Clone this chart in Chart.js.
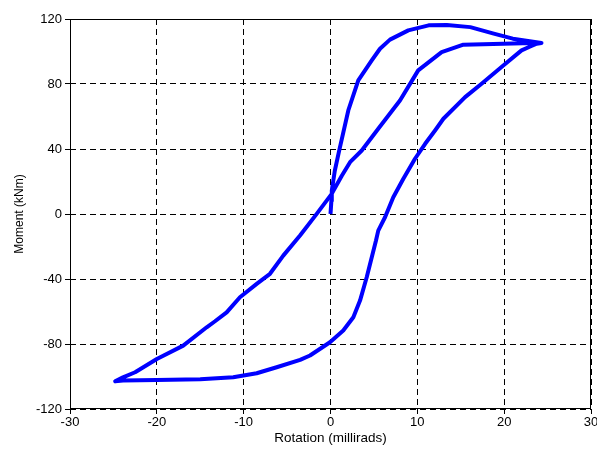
<!DOCTYPE html>
<html>
<head>
<meta charset="utf-8">
<script src="https://cdn.jsdelivr.net/npm/chart.js@4"></script>
<style>
  html, body { margin: 0; padding: 0; background: #fff; }
  #wrap { width: 597px; height: 452px; }
</style>
</head>
<body>
<div id="wrap"><canvas id="graph" width="597" height="452"></canvas></div>
<script>
// rotation (millirads) / moment (kNm), one loop in drawing order
const loadRot = [0, 0.1, 0.15, 0.5, 1.0, 2.05, 3.2, 4.75, 5.7, 6.85, 8.96, 11.3, 13.4, 16.1, 18.8, 21.0, 24.3];
const loadMom = [0, 8, 14.5, 26.8, 39, 63.7, 82.2, 94.5, 101.7, 107.3, 113, 116.1, 116.3, 115, 111, 107.9, 105.2];

const unloadRot = [23.3, 15.3, 12.8, 10.1, 8.0, 5.5, 3.6, 2.25, 1.3, 0.14, -1.59, -3.51, -5.44, -6.97, -8.5, -10.43, -11.96, -13.3, -14.26, -16.96, -20.0, -22.5, -23.9, -24.8];
const unloadMom = [105.2, 104.2, 99.6, 88.4, 69.9, 52.5, 39.1, 31.9, 23.5, 12.4, 0.1, -13.2, -25.6, -36.8, -43, -51.2, -60.5, -66, -69.7, -81, -89.2, -97.4, -100.5, -103];

const reloadRot = [-23.9, -20, -15, -11.2, -8.5, -6.2, -3.5, -2.36, -0.06, 1.47, 2.63, 3.4, 4.17, 5.24, 5.5, 6.28, 7.23, 8.39, 9.73, 10.9, 12.04, 13.0, 15.5, 17.4, 19.9, 22.0, 23.0, 23.75, 24.3];
const reloadMom = [-102.5, -102.1, -101.7, -100.5, -98, -94.3, -89.8, -87.1, -78.9, -71.7, -63.5, -53.3, -38.9, -16.3, -10.2, -2, 10.3, 21.7, 34, 43.2, 51.4, 58.6, 71.9, 80.2, 91.4, 100.7, 103.1, 104.8, 105.2];

const xTicks = [-30, -20, -10, 0, 10, 20, 30];
const yTicks = [-120, -80, -40, 0, 40, 80, 120];

const rotation = loadRot.concat(unloadRot, reloadRot);
const moment = loadMom.concat(unloadMom, reloadMom);
const points = rotation.map((r, i) => ({ x: r, y: moment[i] }));

// solid box round the plot, like the matlab axes
const frame = {
    id: 'frame',
    afterDraw(chart) {
        const a = chart.chartArea;
        const c = chart.ctx;
        c.save();
        c.setLineDash([]);
        c.strokeStyle = '#000';
        c.lineWidth = 1;
        c.strokeRect(a.left + 0.5, a.top + 0.5, a.right - a.left - 1, a.bottom - a.top - 1);
        c.restore();
    }
};

const tickFont = { family: 'Liberation Sans, Arial', size: 13 };

const ctx = document.getElementById('graph').getContext('2d');
const myChart = new Chart(ctx, {
    type: 'scatter',
    data: {
        datasets: [{
            data: points,
            showLine: true,
            borderColor: '#0000ff',
            backgroundColor: '#0000ff',
            borderWidth: 4,
            borderJoinStyle: 'round',
            pointRadius: 0,
            tension: 0
        }]
    },
    options: {
        responsive: false,
        animation: false,
        layout: { padding: { top: 19, right: 6, left: 0, bottom: 0 } },
        plugins: { legend: { display: false }, tooltip: { enabled: false } },
        scales: {
            x: {
                type: 'linear',
                min: -30, max: 30,
                afterBuildTicks: s => { s.ticks = xTicks.map(v => ({ value: v })); },
                afterFit: s => {
                    s.height = 43;
                    s.paddingLeft = 0; s.paddingRight = 0; s.paddingTop = 0; s.paddingBottom = 0;
                },
                ticks: { color: '#000', font: tickFont, padding: 1, maxRotation: 0 },
                grid: { color: '#000', lineWidth: 1, tickLength: 5, tickColor: '#000', borderDash: [6, 4], tickBorderDash: [] },
                border: { display: false, dash: [6, 4] },
                title: {
                    display: true, text: 'Rotation (millirads)', color: '#000',
                    font: { family: 'Liberation Sans, Arial', size: 13.5 },
                    padding: { top: 0, bottom: 6 }
                }
            },
            y: {
                type: 'linear',
                min: -120, max: 120,
                afterBuildTicks: s => { s.ticks = yTicks.map(v => ({ value: v })); },
                afterFit: s => {
                    s.width = 70;
                    s.paddingLeft = 0; s.paddingRight = 0; s.paddingTop = 0; s.paddingBottom = 0;
                },
                ticks: { color: '#000', font: tickFont, padding: 3 },
                grid: { color: '#000', lineWidth: 1, tickLength: 5, tickColor: '#000', borderDash: [6, 4], tickBorderDash: [] },
                border: { display: false, dash: [6, 4] },
                title: {
                    display: true, text: 'Moment (kNm)', color: '#000',
                    font: { family: 'Liberation Sans, Arial', size: 12 },
                    padding: { top: 12, bottom: 0 }
                }
            }
        }
    },
    plugins: [frame]
});
</script>
</body>
</html>
